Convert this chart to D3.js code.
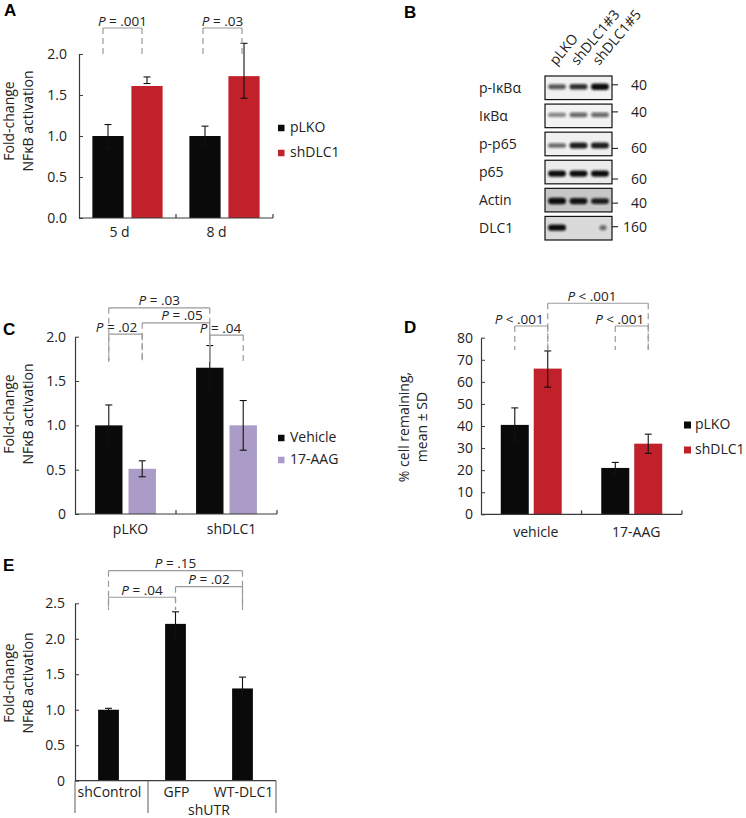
<!DOCTYPE html>
<html><head><meta charset="utf-8">
<script src="https://cdn.jsdelivr.net/npm/d3@7"></script>
<style>
body{margin:0;background:#fff}
svg{display:block}
text{font-family:"Open Sans","DejaVu Sans",sans-serif;fill:#222}
.letter{font-family:"Liberation Sans",Arial,sans-serif;font-weight:bold;fill:#000}
</style>
</head><body>
<svg id="c" width="746" height="818"></svg>
<script>
// ================= DATA =================
// Panel A
const aCategories = ["5 d", "8 d"];
const aSeriesNames = ["pLKO", "shDLC1"];
const aPLKO = [1.00, 1.00];
const aPLKOHigh = [1.14, 1.12];
const aPLKOLow = [0.86, 0.88];
const aShDLC1 = [1.61, 1.73];
const aShDLC1High = [1.72, 2.13];
const aShDLC1Low = [1.64, 1.46];
const aTicks = [0, 0.5, 1.0, 1.5, 2.0];
const aPLabels = ["= .001", "= .03"];

// Panel B (western blot)
const bLanes = ["pLKO", "shDLC1#3", "shDLC1#5"];
const bRows = ["p-I\u03baB\u03b1", "I\u03baB\u03b1", "p-p65", "p65", "Actin", "DLC1"];
const bMarkers = ["40", "40", "60", "60", "40", "160"];
const bBand_pIkBa = [0.55, 0.75, 1.0];
const bBand_IkBa = [0.3, 0.45, 0.45];
const bBand_pp65 = [0.45, 0.85, 0.85];
const bBand_p65 = [0.95, 0.95, 0.95];
const bBand_Actin = [1.0, 0.9, 0.85];
const bBand_DLC1 = [0.95, 0.0, 0.4];

// Panel C
const cCategories = ["pLKO", "shDLC1"];
const cSeriesNames = ["Vehicle", "17-AAG"];
const cVehicle = [1.00, 1.65];
const cVehicleHigh = [1.23, 1.90];
const cVehicleLow = [0.77, 1.40];
const cAAG = [0.51, 1.00];
const cAAGHigh = [0.60, 1.28];
const cAAGLow = [0.42, 0.72];
const cTicks = [0, 0.5, 1.0, 1.5, 2.0];
const cPLabels = ["= .02", "= .05", "= .03", "= .04"];

// Panel D
const dCategories = ["vehicle", "17-AAG"];
const dSeriesNames = ["pLKO", "shDLC1"];
const dPLKO = [40.5, 21.0];
const dPLKOHigh = [48.2, 23.5];
const dPLKOLow = [32.8, 18.5];
const dShDLC1 = [66.0, 32.0];
const dShDLC1High = [74.0, 36.3];
const dShDLC1Low = [57.6, 27.6];
const dTicks = [0, 10, 20, 30, 40, 50, 60, 70, 80];
const dPLabels = ["< .001", "< .001", "< .001"];

// Panel E
const eCategories = ["shControl", "GFP", "WT-DLC1"];
const eGroupLabel = "shUTR";
const eValues = [1.00, 2.21, 1.30];
const eHigh = [1.02, 2.38, 1.46];
const eLow = [0.98, 2.04, 1.14];
const eTicks = [0, 0.5, 1.0, 1.5, 2.0, 2.5];
const ePLabels = ["= .04", "= .02", "= .15"];

// ================= STYLE =================
const BLACK = "#0a0a0a", RED = "#c0212a", PURPLE = "#aa9cc7";
const AXIS = "#3a3a3a", BRACKET = "#9a9a9a";
const FS = 14;

const svg = d3.select("#c");

function fmt1(v){ return d3.format(".1f")(v); }
function fmt0(v){ return v === 0 ? "0" : d3.format(".1f")(v); }

function pText(g, x, y, rest){
  const t = g.append("text").attr("x", x).attr("y", y).attr("text-anchor", "middle")
    .style("font-size", "13.5px");
  t.append("tspan").style("font-style", "italic").text("P");
  t.append("tspan").text(" " + rest);
}

function barPanel(cfg){
  const g = svg.append("g");
  const y = d3.scaleLinear().domain([0, cfg.max]).range([cfg.y0, cfg.yTop]);
  const x0 = d3.scaleBand().domain(cfg.categories).range([cfg.left, cfg.right]);
  const x1 = d3.scaleBand().domain(cfg.series.map(s => s.name))
    .range([0, x0.bandwidth()]).paddingInner(cfg.pi).paddingOuter(cfg.po);
  const barX = (ci, si) => x0(cfg.categories[ci]) + x1(cfg.series[si].name);
  const barC = (ci, si) => barX(ci, si) + x1.bandwidth() / 2;

  // bars
  cfg.series.forEach((s, si) => {
    g.append("g").selectAll("rect").data(s.values).join("rect")
      .attr("x", (d, i) => barX(i, si)).attr("width", x1.bandwidth())
      .attr("y", d => y(d)).attr("height", d => y(0) - y(d)).attr("fill", s.color);
  });
  // error bars
  cfg.series.forEach((s, si) => {
    const eg = g.append("g").attr("stroke", "#111").attr("stroke-width", 1.1);
    s.values.forEach((v, i) => {
      const cx = barC(i, si);
      eg.append("line").attr("x1", cx).attr("x2", cx).attr("y1", y(s.hi[i])).attr("y2", y(s.lo[i]));
      eg.append("line").attr("x1", cx - 3.5).attr("x2", cx + 3.5).attr("y1", y(s.hi[i])).attr("y2", y(s.hi[i]));
      eg.append("line").attr("x1", cx - 3.5).attr("x2", cx + 3.5).attr("y1", y(s.lo[i])).attr("y2", y(s.lo[i]));
    });
  });
  // y axis
  const ya = g.append("g").attr("transform", `translate(${cfg.left},0)`)
    .call(d3.axisLeft(y).tickValues(cfg.ticks).tickFormat(cfg.fmt)
      .tickSizeInner(-4).tickSizeOuter(0).tickPadding(cfg.tickPad));
  ya.select(".domain").attr("stroke", AXIS).attr("stroke-width", 1.2);
  ya.selectAll(".tick line").attr("stroke", AXIS);
  ya.selectAll(".tick text").style("font-size", FS + "px").style("font-family", null).attr("fill", "#222");
  // x axis
  g.append("line").attr("x1", cfg.left).attr("x2", cfg.right).attr("y1", y(0)).attr("y2", y(0))
    .attr("stroke", AXIS).attr("stroke-width", 1.2);
  cfg.categories.forEach(c => {
    const xb = x0(c) + x0.bandwidth();
    g.append("line").attr("x1", xb).attr("x2", xb).attr("y1", y(0)).attr("y2", y(0) - 4)
      .attr("stroke", AXIS).attr("stroke-width", 1.2);
    g.append("text").attr("x", x0(c) + x0.bandwidth() / 2 + cfg.xLabelDx).attr("y", cfg.xLabelY)
      .attr("text-anchor", "middle").style("font-size", FS + "px").text(c);
  });
  // brackets
  drawBrackets(g, cfg.brackets, b => barC(b[0], b[1]), y);
  // legend
  cfg.series.forEach((s, si) => {
    const ly = cfg.legend.y + si * cfg.legend.dy;
    g.append("rect").attr("x", cfg.legend.x).attr("y", ly - cfg.legend.size / 2 - 4)
      .attr("width", cfg.legend.size).attr("height", cfg.legend.size).attr("fill", s.color);
    g.append("text").attr("x", cfg.legend.tx).attr("y", ly).style("font-size", cfg.legend.fs + "px").text(s.name);
  });
  yTitle(g, cfg.yTitle, cfg.yTitleX, cfg.yTitleY);
  return g;
}

function drawBrackets(g, list, xOf, y){
  const bg = g.append("g");
  list.forEach(b => {
    const xa = xOf(b.a) + (b.sx || 0), xb = xOf(b.b) + (b.sx || 0);
    const yl = y(b.level), yb = y(b.bottom);
    bg.append("line").attr("x1", xa).attr("x2", xb).attr("y1", yl).attr("y2", yl)
      .attr("stroke", BRACKET).attr("stroke-width", 1.2);
    [xa, xb].forEach(xx => {
      bg.append("line").attr("x1", xx).attr("x2", xx).attr("y1", yl).attr("y2", yb)
        .attr("stroke", BRACKET).attr("stroke-width", 1.2).attr("stroke-dasharray", "6,4");
    });
    pText(bg, (xa + xb) / 2 + (b.dx || 0), yl - 2.5, b.label);
  });
}

function yTitle(g, lines, xs, cy){
  lines.forEach((l, i) => {
    g.append("text").attr("transform", `translate(${xs[i]},${cy}) rotate(-90)`)
      .attr("text-anchor", "middle").style("font-size", FS + "px").text(l);
  });
}

function letter(t, x, y){
  svg.append("text").attr("class", "letter").attr("x", x).attr("y", y).style("font-size", "17px").text(t);
}

// ================= PANEL A =================
barPanel({
  left: 79, right: 273, y0: 218, yTop: 54, max: 2.0, ticks: aTicks, fmt: fmt1, tickPad: 12,
  categories: aCategories, pi: 0.2, po: 0.343, xLabelY: 237, xLabelDx: -8,
  series: [
    {name: aSeriesNames[0], color: BLACK, values: aPLKO, hi: aPLKOHigh, lo: aPLKOLow},
    {name: aSeriesNames[1], color: RED, values: aShDLC1, hi: aShDLC1High, lo: aShDLC1Low}
  ],
  brackets: [
    {a: [0, 0], b: [0, 1], level: 2.317, bottom: 1.99, label: aPLabels[0], sx: -5},
    {a: [1, 0], b: [1, 1], level: 2.317, bottom: 1.99, label: aPLabels[1], sx: -2}
  ],
  legend: {x: 278, y: 132, dy: 25, size: 6.5, tx: 290, fs: 14},
  yTitle: ["Fold-change", "NF\u03baB activation"], yTitleX: [14, 33], yTitleY: 121
});
letter("A", 4, 16);

// ================= PANEL C =================
barPanel({
  left: 75, right: 277, y0: 514, yTop: 336.7, max: 2.0, ticks: cTicks, fmt: fmt0, tickPad: 9,
  categories: cCategories, pi: 0.18, po: 0.6, xLabelY: 534, xLabelDx: 5,
  series: [
    {name: cSeriesNames[0], color: BLACK, values: cVehicle, hi: cVehicleHigh, lo: cVehicleLow},
    {name: cSeriesNames[1], color: PURPLE, values: cAAG, hi: cAAGHigh, lo: cAAGLow}
  ],
  brackets: [
    {a: [0, 0], b: [0, 1], level: 2.029, bottom: 1.714, label: cPLabels[0], dx: -9},
    {a: [0, 1], b: [1, 0], level: 2.157, bottom: 1.714, label: cPLabels[1], dx: 6},
    {a: [0, 0], b: [1, 0], level: 2.326, bottom: 1.714, label: cPLabels[2]},
    {a: [1, 0], b: [1, 1], level: 2.018, bottom: 1.714, label: cPLabels[3], dx: -6}
  ],
  legend: {x: 278, y: 442, dy: 22, size: 6.5, tx: 290, fs: 14},
  yTitle: ["Fold-change", "NF\u03baB activation"], yTitleX: [14, 33], yTitleY: 414
});
letter("C", 3, 335);

// ================= PANEL D =================
barPanel({
  left: 481, right: 682, y0: 514.3, yTop: 337.7, max: 80, ticks: dTicks, fmt: d3.format("d"), tickPad: 8,
  categories: dCategories, pi: 0.15, po: 0.6, xLabelY: 537, xLabelDx: 4.5,
  series: [
    {name: dSeriesNames[0], color: BLACK, values: dPLKO, hi: dPLKOHigh, lo: dPLKOLow},
    {name: dSeriesNames[1], color: RED, values: dShDLC1, hi: dShDLC1High, lo: dShDLC1Low}
  ],
  brackets: [
    {a: [0, 0], b: [0, 1], level: 85.3, bottom: 74.4, label: dPLabels[0], dx: -12},
    {a: [0, 1], b: [1, 1], level: 95.6, bottom: 74.4, label: dPLabels[1], dx: -6},
    {a: [1, 0], b: [1, 1], level: 85.3, bottom: 74.4, label: dPLabels[2], dx: -12}
  ],
  legend: {x: 684, y: 429, dy: 25, size: 7, tx: 695, fs: 14},
  yTitle: ["% cell remaining,", "mean \u00b1 SD"], yTitleX: [409, 427], yTitleY: 427
});
letter("D", 404, 333);

// ================= PANEL E =================
(function(){
  const g = svg.append("g");
  const left = 75, right = 276, y0 = 780.7, yTop = 603.3;
  const y = d3.scaleLinear().domain([0, 2.5]).range([y0, yTop]);
  const x = d3.scaleBand().domain(eCategories).range([left, right]).paddingInner(0.69).paddingOuter(0.345);
  const cx = c => x(c) + x.bandwidth() / 2;
  g.append("g").selectAll("rect").data(eValues).join("rect")
    .attr("x", (d, i) => x(eCategories[i])).attr("width", x.bandwidth())
    .attr("y", d => y(d)).attr("height", d => y(0) - y(d)).attr("fill", BLACK);
  const eg = g.append("g").attr("stroke", "#111").attr("stroke-width", 1.1);
  eValues.forEach((v, i) => {
    const xx = cx(eCategories[i]);
    eg.append("line").attr("x1", xx).attr("x2", xx).attr("y1", y(eHigh[i])).attr("y2", y(eLow[i]));
    eg.append("line").attr("x1", xx - 3.5).attr("x2", xx + 3.5).attr("y1", y(eHigh[i])).attr("y2", y(eHigh[i]));
  });
  const ya = g.append("g").attr("transform", `translate(${left},0)`)
    .call(d3.axisLeft(y).tickValues(eTicks).tickFormat(fmt0).tickSizeInner(-4).tickSizeOuter(0).tickPadding(10));
  ya.select(".domain").attr("stroke", AXIS).attr("stroke-width", 1.2);
  ya.selectAll(".tick line").attr("stroke", AXIS);
  ya.selectAll(".tick text").style("font-size", FS + "px").style("font-family", null).attr("fill", "#222");
  // x axis with group separators
  const ax = g.append("g").attr("stroke", "#777").attr("stroke-width", 1.2);
  ax.append("line").attr("x1", left).attr("x2", right).attr("y1", y0).attr("y2", y0).attr("stroke", AXIS);
  const sep = x("GFP") - x.step() * x.paddingInner() / 2 + 6;
  [left, sep, right].forEach(xx => {
    ax.append("line").attr("x1", xx).attr("x2", xx).attr("y1", y0).attr("y2", 813);
  });
  eCategories.forEach(c => {
    g.append("text").attr("x", cx(c) + 1).attr("y", 797).attr("text-anchor", "middle")
      .style("font-size", FS + "px").text(c);
  });
  g.append("text").attr("x", (cx("GFP") + cx("WT-DLC1")) / 2).attr("y", 815).attr("text-anchor", "middle")
    .style("font-size", FS + "px").text(eGroupLabel);
  drawBrackets(g, [
    {a: 0, b: 1, level: 2.585, bottom: 2.405, label: ePLabels[0]},
    {a: 1, b: 2, level: 2.734, bottom: 2.405, label: ePLabels[1]},
    {a: 0, b: 2, level: 2.96, bottom: 2.405, label: ePLabels[2]}
  ], i => cx(eCategories[i]), y);
  yTitle(g, ["Fold-change", "NF\u03baB activation"], [14, 33], 683);
})();
letter("E", 3, 571);

// ================= PANEL B (blot) =================
(function(){
  const g = svg.append("g");
  const defs = svg.append("defs");
  defs.append("filter").attr("id", "blur").attr("x", "-30%").attr("y", "-100%").attr("width", "160%").attr("height", "300%")
    .append("feGaussianBlur").attr("stdDeviation", 0.9);
  const rowBg = ["#f1f1f1", "#f3f3f3", "#f0f0f0", "#ebebeb", "#c7c7c7", "#dadada"];
  const bands = [bBand_pIkBa, bBand_IkBa, bBand_pp65, bBand_p65, bBand_Actin, bBand_DLC1];
  const markerOffset = [-3, -4, 4.5, 7, 3, -1.5];
  const bandOffset = [-1, -1, 1.5, 1.5, 1, -0.5];
  const yRow = d3.scaleBand().domain(bRows).range([76, 240]).paddingInner(0.16);
  const xLane = d3.scaleBand().domain(bLanes).range([545, 612]).paddingInner(0.12).paddingOuter(0.12);
  bRows.forEach((r, ri) => {
    const top = yRow(r), h = yRow.bandwidth(), mid = top + h / 2;
    g.append("rect").attr("x", 545).attr("y", top).attr("width", 67).attr("height", h)
      .attr("fill", rowBg[ri]).attr("stroke", "#111").attr("stroke-width", 1.2);
    bLanes.forEach((l, li) => {
      const v = bands[ri][li];
      if (v <= 0) return;
      const small = (ri === 5 && li === 2);
      const w = small ? 7 : xLane.bandwidth() * 0.95;
      const bh = small ? 5 : 3 + 3.5 * v;
      const bx = xLane(l) + xLane.bandwidth() / 2;
      g.append("rect").attr("x", bx - w / 2 + (small ? 3 : 0)).attr("y", mid + bandOffset[ri] - bh / 2)
        .attr("width", w).attr("height", bh).attr("rx", bh / 2)
        .attr("fill", "#111").attr("fill-opacity", Math.min(1, 0.25 + 0.8 * v)).attr("filter", "url(#blur)");
    });
    g.append("text").attr("x", 479).attr("y", mid + 5).style("font-size", FS + "px").text(r);
    const my = mid + markerOffset[ri];
    g.append("line").attr("x1", 612).attr("x2", 618).attr("y1", my).attr("y2", my).attr("stroke", "#222").attr("stroke-width", 1.1);
    g.append("text").attr("x", 647).attr("y", my + 5).attr("text-anchor", "end").style("font-size", FS + "px").text(bMarkers[ri]);
  });
  bLanes.forEach(l => {
    const bx = xLane(l) + xLane.bandwidth() / 2;
    g.append("text").attr("transform", `translate(${bx - 1},66) rotate(-50)`)
      .style("font-size", FS + "px").text(l);
  });
})();
letter("B", 404, 18);
</script>
</body></html>
